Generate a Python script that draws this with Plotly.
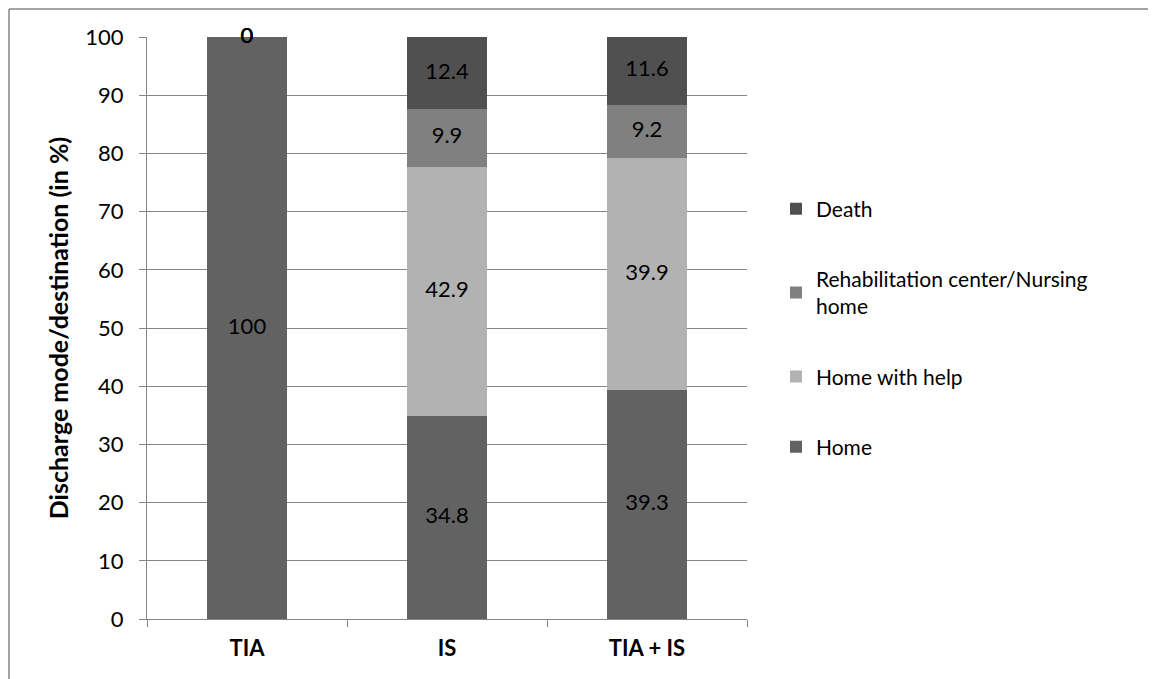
import plotly.graph_objects as go

categories = ["TIA", "IS", "TIA + IS"]
home = [100, 34.8, 39.3]
home_help = [0, 42.9, 39.9]
rehab = [0, 9.9, 9.2]
death = [0, 12.4, 11.6]
y_ticks = [0, 10, 20, 30, 40, 50, 60, 70, 80, 90, 100]

series = [
    ("Home", home, "#626262"),
    ("Home with help", home_help, "#b2b2b2"),
    ("Rehabilitation center/Nursing<br>home", rehab, "#808080"),
    ("Death", death, "#505050"),
]

FONT = "Lato"
W, H = 1148, 671
ML, MR, MT, MB = 139, 409, 29, 60
fig = go.Figure()
n = len(series)
for i, (name, vals, col) in enumerate(series):
    fig.add_trace(go.Bar(
        x=categories, y=vals, name=name, marker=dict(color=col, line=dict(width=0)),
        legendgroup=f"g{i}", legendrank=n - i, hoverinfo="skip",
    ))

# labels at centers of segments
base = [0, 0, 0]
lx, ly, lt = [], [], []
for name, vals, col in series:
    for j, v in enumerate(vals):
        lx.append(categories[j])
        ly.append(base[j] + v / 2)
        lt.append(f"{v:g}")
        base[j] += v
fig.add_trace(go.Scatter(x=lx, y=ly, text=lt, mode="text", showlegend=False,
                         textfont=dict(family=FONT, size=22, color="black"),
                         hoverinfo="skip", cliponaxis=False))

pw = W - ML - MR
ph = H - MT - MB
fig.update_layout(
    barmode="stack",
    bargap=0.6,
    width=W, height=H,
    paper_bgcolor="white", plot_bgcolor="white",
    margin=dict(l=ML, r=MR, t=MT, b=MB),
    font=dict(family=FONT, size=22, color="black"),
    legend=dict(x=(768 - ML) / pw, y=0.5, xanchor="left", yanchor="middle",
                traceorder="grouped", tracegroupgap=40,
                font=dict(family=FONT, size=21, color="black"),
                itemwidth=30),
    xaxis=dict(showline=True, linecolor="#868686", linewidth=1,
               ticks="outside", tickson="boundaries", ticklen=7, tickcolor="#868686",
               ticklabelstandoff=10,
               tickfont=dict(family=FONT, size=22, color="black", weight="bold"),
               range=[-0.5, 2.5]),
    yaxis=dict(range=[0, 100], tickvals=y_ticks, showgrid=True, gridcolor="#868686",
               gridwidth=1, showline=True, linecolor="#868686", linewidth=1,
               ticks="outside", ticklen=7, tickcolor="#868686",
               ticklabelstandoff=11,
               tickfont=dict(family=FONT, size=22, color="black"),
               title=dict(text="Discharge mode/destination (in %)",
                          font=dict(family=FONT, size=25, color="black", weight="bold"),
                          standoff=9),
               zeroline=False),
)

# chart frame (top and left edges)
fx = (1 - ML) / pw
fy = 1 + (MT - 1) / ph
fig.add_shape(type="line", xref="paper", yref="paper", x0=fx, x1=(W - ML) / pw, y0=fy, y1=fy,
              line=dict(color="#868686", width=1.5))
fig.add_shape(type="line", xref="paper", yref="paper", x0=fx, x1=fx, y0=-MB / ph, y1=fy,
              line=dict(color="#868686", width=1.5))

fig.write_html("out.html")
